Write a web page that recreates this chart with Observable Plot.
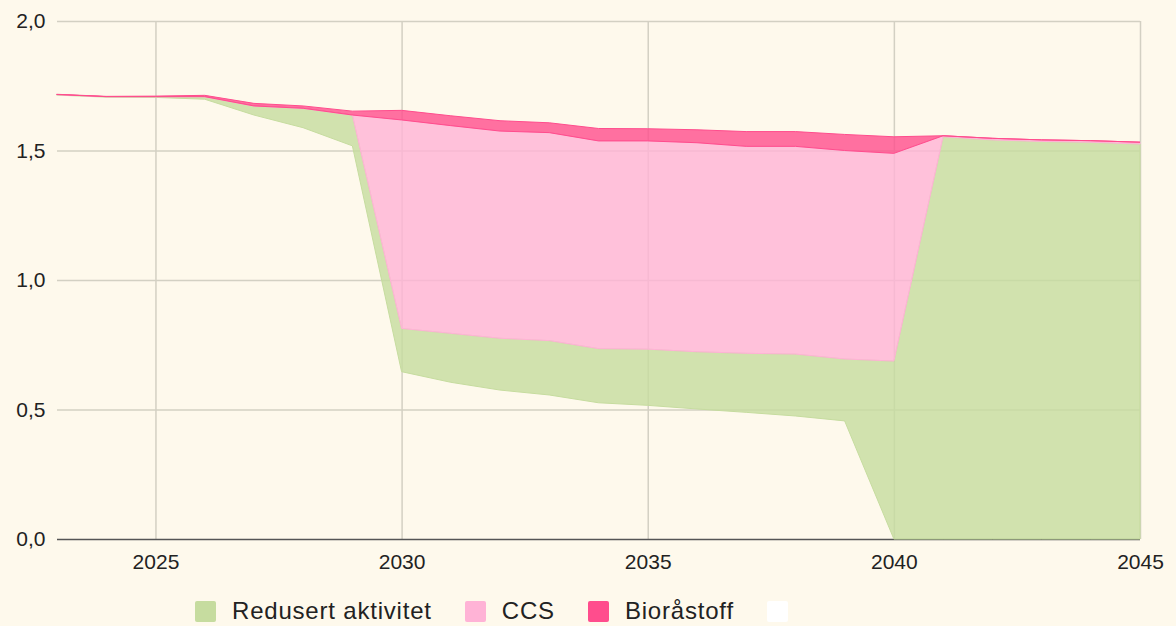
<!DOCTYPE html>
<html>
<head>
<meta charset="utf-8">
<script src="https://cdn.jsdelivr.net/npm/d3@7"></script>
<script src="https://cdn.jsdelivr.net/npm/@observablehq/plot@0.6"></script>
<style>
  html, body { margin: 0; padding: 0; background: #fef9ec; }
  #wrap { width: 1176px; height: 626px; position: relative; font-family: "Liberation Sans", Arial, sans-serif; }
  #legend { position: absolute; top: 600px; left: 195px; display: flex; align-items: center; height: 22px; }
  .item { display: flex; align-items: center; margin-right: 33px; }
  .sw { width: 21px; height: 21px; border-radius: 2px; margin-right: 16px; }
  .lab { font-size: 24px; color: #222; letter-spacing: 0.8px; line-height: 22px; }
</style>
</head>
<body>
<div id="wrap"><div id="chart"></div><div id="legend"></div></div>
<script>
const years = [2023,2024,2025,2026,2027,2028,2029,2030,2031,2032,2033,2034,2035,2036,2037,2038,2039,2040,2041,2042,2043,2044,2045];
// stacked components (Mt)
const rest      = [1.714,1.706,1.705,1.698,1.637,1.588,1.518,0.646,0.605,0.575,0.556,0.526,0.516,0.502,0.489,0.475,0.456,0.000,0.000,0.000,0.000,0.000,0.000];
const redusert  = [0.002,0.002,0.003,0.010,0.035,0.075,0.119,0.167,0.189,0.200,0.210,0.209,0.217,0.221,0.228,0.239,0.239,0.687,1.553,1.541,1.535,1.532,1.525];
const ccs       = [0.000,0.000,0.000,0.000,0.000,0.000,0.000,0.805,0.802,0.800,0.803,0.802,0.804,0.807,0.799,0.802,0.805,0.802,0.004,0.006,0.006,0.006,0.007];
const bio       = [0.001,0.001,0.002,0.005,0.010,0.009,0.015,0.037,0.038,0.040,0.038,0.048,0.047,0.050,0.057,0.057,0.062,0.064,0.000,0.000,0.000,0.000,0.000];

const seriesKeys   = ["Rest", "Redusert aktivitet", "CCS", "Bioråstoff"];
const seriesColors = ["transparent", "#c6dc9f", "#ffb3d6", "#ff4d8d"];
const legendKeys   = ["Redusert aktivitet", "CCS", "Bioråstoff", ""];
const legendColors = ["#c6dc9f", "#ffb3d6", "#ff4d8d", "#ffffff"];
const xTicks = [2025, 2030, 2035, 2040, 2045];
const yTicks = [0, 0.5, 1.0, 1.5, 2.0];

const values = [rest, redusert, ccs, bio];
const data = [];
years.forEach((yr, i) => {
  seriesKeys.forEach((s, k) => data.push({year: yr, series: s, value: values[k][i]}));
});

const chart = Plot.plot({
  width: 1176,
  height: 580,
  marginTop: 21,
  marginBottom: 41,
  marginLeft: 57,
  marginRight: 36,
  style: {background: "#fef9ec", fontFamily: "Liberation Sans, Arial, sans-serif", fontSize: "21px", color: "#222", overflow: "visible"},
  x: {domain: [2023, 2045], ticks: xTicks, tickFormat: d => String(d), tickSize: 0, tickPadding: 15, label: null},
  y: {domain: [0, 2], ticks: yTicks, tickFormat: d => d.toFixed(1).replace(".", ","), tickSize: 0, tickPadding: 12, label: null},
  color: {domain: seriesKeys, range: seriesColors},
  marks: [
    Plot.ruleY(yTicks.filter(d => d > 0), {stroke: "#d3d0c3", strokeWidth: 1.5}),
    Plot.ruleX(xTicks, {stroke: "#d3d0c3", strokeWidth: 1.5}),
    Plot.ruleY([0], {stroke: "#555555", strokeWidth: 1.5}),
    Plot.areaY(data, {x: "year", y: "value", z: "series", fill: "series", fillOpacity: 0.8, stroke: "series", strokeWidth: 1, order: seriesKeys})
  ]
});
document.getElementById("chart").appendChild(chart);

const leg = document.getElementById("legend");
legendKeys.forEach((k, i) => {
  const it = document.createElement("div");
  it.className = "item";
  const sw = document.createElement("div");
  sw.className = "sw";
  sw.style.background = legendColors[i];
  const lab = document.createElement("span");
  lab.className = "lab";
  lab.textContent = k;
  it.appendChild(sw); it.appendChild(lab);
  leg.appendChild(it);
});
</script>
</body>
</html>
